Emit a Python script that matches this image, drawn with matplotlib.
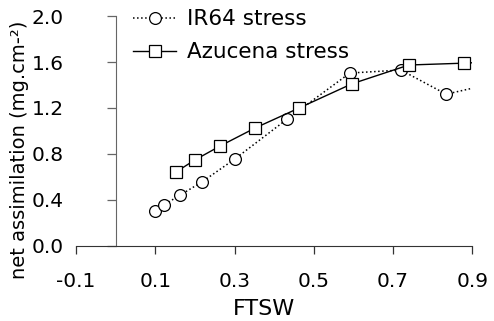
import matplotlib
matplotlib.use("Agg")
import matplotlib.pyplot as plt

plt.rcParams['font.family'] = ['DejaVu Sans']

# IR64 stress
ir64_x = [0.10, 0.122, 0.163, 0.218, 0.301, 0.433, 0.591, 0.72, 0.834, 1.00]
ir64_y = [0.30, 0.357, 0.443, 0.557, 0.757, 1.104, 1.504, 1.53, 1.32, 1.45]

# Azucena stress
azu_x = [0.152, 0.20, 0.264, 0.352, 0.463, 0.596, 0.74, 0.879, 1.00]
azu_y = [0.643, 0.748, 0.87, 1.026, 1.20, 1.41, 1.574, 1.59, 1.61]

xticks = [-0.1, 0.1, 0.3, 0.5, 0.7, 0.9]
yticks = [0.0, 0.4, 0.8, 1.2, 1.6, 2.0]

fig = plt.figure(figsize=(4.94, 3.21), dpi=100)
ax = fig.add_axes([0.154, 0.234, 0.802, 0.716])

ax.plot(ir64_x, ir64_y, linestyle=':', color='black', lw=1.1,
        marker='o', markersize=8.5, markerfacecolor='white',
        markeredgecolor='black', markeredgewidth=0.9, label='IR64 stress')
ax.plot(azu_x, azu_y, linestyle='-', color='black', lw=1.0,
        marker='s', markersize=8.5, markerfacecolor='white',
        markeredgecolor='black', markeredgewidth=0.9, label='Azucena stress')

ax.set_xlim(-0.1, 0.9)
ax.set_ylim(0, 2.0)
ax.set_xticks(xticks)
ax.set_yticks(yticks)
ax.set_xticklabels([f"{t:.1f}" for t in xticks])
ax.set_yticklabels([f"{t:.1f}" for t in yticks])

ax.spines['top'].set_visible(False)
ax.spines['right'].set_visible(False)
ax.spines['left'].set_position(('data', 0))
ax.spines['left'].set_color('#666666')
ax.spines['bottom'].set_color('#333333')

ax.tick_params(axis='y', direction='out', length=6.5, width=0.9,
               color='#666666', labelsize=14.5, pad=31)
ax.tick_params(axis='x', direction='out', length=5.5, width=0.9,
               color='#333333', labelsize=14.5, pad=13)

ax.set_xlabel('FTSW', fontsize=16)
ax.xaxis.set_label_coords(0.474, -0.232)
ax.set_ylabel('net assimilation (mg.cm-²)', fontsize=14)
ax.yaxis.set_label_coords(-0.118, 0.417)

ax.legend(loc='upper left', bbox_to_anchor=(0.144, 1.03), frameon=False,
          fontsize=15.5, handlelength=2.0, handletextpad=0.5,
          labelspacing=0.6, borderpad=0, borderaxespad=0)

fig.savefig('out.png', dpi=100)
